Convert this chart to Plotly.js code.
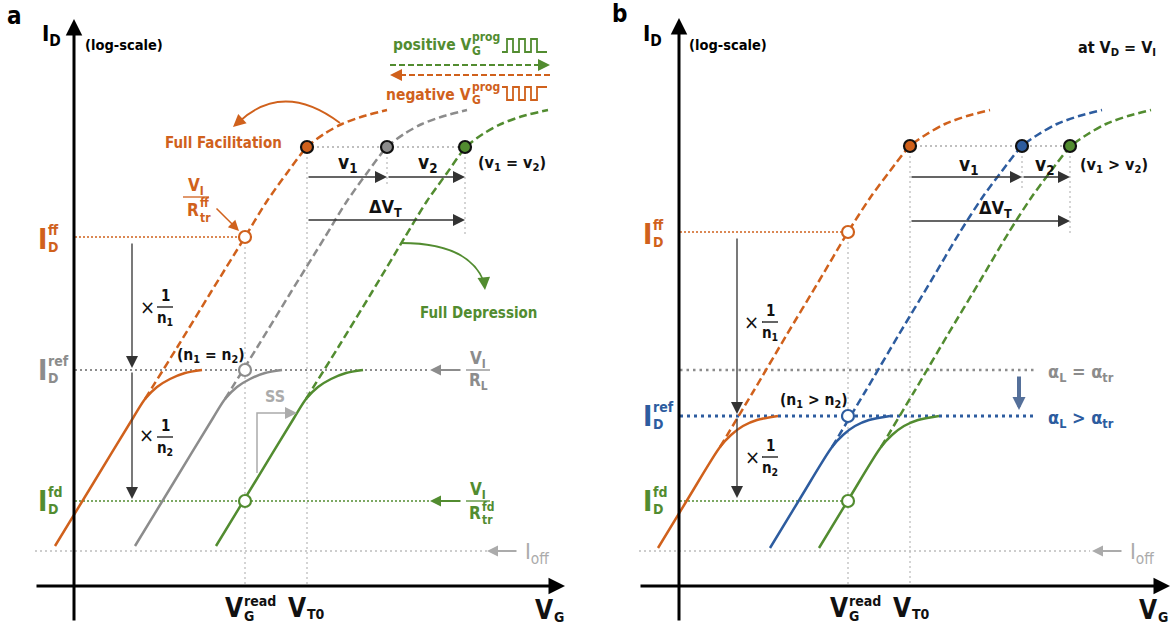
<!DOCTYPE html>
<html><head><meta charset="utf-8">
<script src="https://cdn.plot.ly/plotly-3.0.1.min.js"></script>
<style>html,body{margin:0;padding:0;background:#fff}#chart{width:1174px;height:630px}</style>
</head><body><div id="chart"></div>
<script>
// ---------- data (schematic units: VG offset from the axis origin, log ID above the VG axis) ----------
// panel a
const aOrangeSolidX = [-19, 20, 59, 71, 83, 96, 111, 128];
const aOrangeSolidY = [40, 104, 168, 187, 199, 207, 213, 216];
const aOrangeDashX = [71, 104, 137, 171, 193, 213, 233, 250, 268, 290, 313];
const aOrangeDashY = [187, 240, 294, 349, 385, 413, 439, 452, 462, 470, 476];
const aGraySolidX = [61, 100, 139, 151, 163, 176, 191, 208];
const aGraySolidY = [40, 104, 168, 187, 199, 207, 213, 216];
const aGrayDashX = [151, 184, 217, 251, 273, 293, 313, 330, 348, 370, 393];
const aGrayDashY = [187, 240, 294, 349, 385, 413, 439, 452, 462, 470, 476];
const aGreenSolidX = [142, 181, 220, 232, 244, 257, 272, 289];
const aGreenSolidY = [40, 104, 168, 187, 199, 207, 213, 216];
const aGreenDashX = [232, 265, 298, 331, 353, 373, 392, 409, 427, 449, 474];
const aGreenDashY = [187, 240, 294, 349, 385, 413, 439, 452, 462, 470, 476];
const aStateX = [233, 313, 391];          // orange / gray / green VT states
const aStateY = [439, 439, 439];
const aReadX = [171, 171, 171];           // read points at VG_read
const aReadY = [349, 216, 85];            // ID_ff, ID_ref, ID_fd
const aLevelOff = 35;
// panel b
const bOrangeSolidX = [-21, 10, 41, 52, 64, 78, 99];
const bOrangeSolidY = [38, 89, 139, 151, 160, 166, 170];
const bOrangeDashX = [41, 74, 107, 140, 169, 191, 211, 231, 248, 266, 288, 311];
const bOrangeDashY = [139, 194, 250, 305, 354, 388, 415, 440, 452, 462, 470, 476];
const bBlueSolidX = [91, 122, 153, 164, 176, 190, 211];
const bBlueSolidY = [38, 89, 139, 151, 160, 166, 170];
const bBlueDashX = [153, 186, 219, 252, 281, 303, 323, 343, 360, 378, 400, 423];
const bBlueDashY = [139, 194, 250, 305, 354, 388, 415, 440, 452, 462, 470, 476];
const bGreenSolidX = [140, 171, 202, 213, 225, 239, 260];
const bGreenSolidY = [38, 89, 139, 151, 160, 166, 170];
const bGreenDashX = [202, 235, 268, 301, 330, 352, 372, 392, 409, 427, 449, 472];
const bGreenDashY = [139, 194, 250, 305, 354, 388, 415, 440, 452, 462, 470, 476];
const bStateX = [231, 343, 391];
const bStateY = [440, 440, 440];
const bReadX = [169, 169, 169];
const bReadY = [354, 170, 85];
const bLevelAlpha = 216;
const bLevelOff = 35;
// programming pulse edges (top-right legend of panel a)
const pulseEdges = [428, 433, 439, 445, 451, 457, 463, 473];

// ---------- styling ----------
const ORANGE = '#d0611c', GREEN = '#528c30', BLUE = '#2d5c9f', GRAY = '#8c8c8c',
      LGRAY = '#ababab', VGRAY = '#bdbdbd', DARK = '#333333';
const F = "'Liberation Sans Narrow','DejaVu Sans Condensed','Arial Narrow','Liberation Sans',Arial,sans-serif";
const A = {x: 'x', y: 'y'}, B = {x: 'x2', y: 'y2'};

const traces = [], shapes = [], ann = [];

function curve(p, xs, ys, color, dashed) {
  traces.push({type: 'scatter', mode: 'lines', x: xs, y: ys, xaxis: p.x, yaxis: p.y, hoverinfo: 'skip',
    line: {color: color, width: 2.5, shape: 'spline', smoothing: 0.8, dash: dashed ? '8px,4px' : 'solid'}});
}
function dots(p, xs, ys, fills, lines) {
  traces.push({type: 'scatter', mode: 'markers', x: xs, y: ys, xaxis: p.x, yaxis: p.y, hoverinfo: 'skip',
    marker: {size: 12, color: fills, line: {color: lines, width: 2.2}}});
}
function txt(p, x, y, text, size, color, xanchor, bold, yanchor) {
  ann.push({xref: p.x, yref: p.y, x: x, y: y, text: (bold === false) ? text : '<b>' + text + '</b>',
    showarrow: false, xanchor: xanchor || 'center', yanchor: yanchor || 'middle',
    font: {family: F, size: size, color: color}, borderpad: 0});
}
function stacked(p, x, y, main, sup, sub, color, size, ssize, up, down, subDx) {
  txt(p, x, y, main, size, color, 'right');
  if (sup) txt(p, x - 1, y + up, sup, ssize, color, 'left');
  if (sub) txt(p, x - 1 + (subDx || 0), y - down, sub, ssize, color, 'left');
}
function arrow(p, x0, y0, x1, y1, color, width, size) {
  ann.push({xref: p.x, yref: p.y, axref: p.x, ayref: p.y, x: x1, y: y1, ax: x0, ay: y0, text: '',
    showarrow: true, arrowhead: 2, arrowsize: size, arrowwidth: width, arrowcolor: color, standoff: 0, startstandoff: 0});
}
function line(p, x0, y0, x1, y1, color, width, dash, layer) {
  shapes.push({type: 'line', xref: p.x, yref: p.y, x0: x0, y0: y0, x1: x1, y1: y1, layer: layer || 'below',
    line: {color: color, width: width, dash: dash || 'solid'}});
}
function path(p, d, color, width, dash) {
  shapes.push({type: 'path', xref: p.x, yref: p.y, path: d, layer: 'above', fillcolor: 'rgba(0,0,0,0)',
    line: {color: color, width: width, dash: dash || 'solid'}});
}
function frac(p, xc, yl, top, bottom, color, size, half) {
  txt(p, xc, yl + 11, top, size, color);
  line(p, xc - half, yl, xc + half, yl, color, 1.3, 'solid', 'above');
  if (bottom) txt(p, xc, yl - 11, bottom, size, color);
}
function pulse(p, edges, hi, lo, startLow, color) {
  let d = '', lvl = startLow ? lo : hi;
  d += 'M' + edges[0] + ',' + lvl;
  for (let i = 1; i < edges.length; i++) {
    d += ' L' + edges[i] + ',' + lvl;
    if (i < edges.length - 1) { lvl = (lvl === lo) ? hi : lo; d += ' L' + edges[i] + ',' + lvl; }
  }
  path(p, d, color, 1.8);
}

// ---------- panel a ----------
curve(A, aOrangeSolidX, aOrangeSolidY, ORANGE, false);
curve(A, aOrangeDashX, aOrangeDashY, ORANGE, true);
curve(A, aGraySolidX, aGraySolidY, GRAY, false);
curve(A, aGrayDashX, aGrayDashY, GRAY, true);
curve(A, aGreenSolidX, aGreenSolidY, GREEN, false);
curve(A, aGreenDashX, aGreenDashY, GREEN, true);
dots(A, aStateX, aStateY, [ORANGE, GRAY, GREEN], '#111');
dots(A, aReadX, aReadY, 'white', [ORANGE, GRAY, GREEN]);

line(A, 1, aReadY[0], aReadX[0], aReadY[0], ORANGE, 1.5, '2px,2px');
line(A, 1, aReadY[1], 356, aReadY[1], GRAY, 2, '2px,3px');
line(A, 1, aReadY[2], 356, aReadY[2], GREEN, 1.6, '2px,2px');
line(A, -39, aLevelOff, 413, aLevelOff, VGRAY, 1.5, '2px,3px');
line(A, aReadX[0], aReadY[0], aReadX[0], 0, VGRAY, 1.3, '2px,3px');
line(A, aStateX[0], aStateY[0], aStateX[0], 0, VGRAY, 1.3, '2px,3px');
line(A, aStateX[0], aStateY[0], aStateX[2], aStateY[2], LGRAY, 1.5, '2px,3px');
line(A, aStateX[1], aStateY[1], aStateX[1], 399, VGRAY, 1.3, '2px,3px');
line(A, aStateX[2], aStateY[2], aStateX[2], 352, VGRAY, 1.3, '2px,3px');

arrow(A, 0, -36, 0, 567, '#000', 3, 1.1);
arrow(A, -39, 0, 491, 0, '#000', 3, 1.1);
arrow(A, aStateX[0], 409, aStateX[1], 409, DARK, 1.3, 1.85);
arrow(A, aStateX[1], 409, aStateX[2], 409, DARK, 1.3, 1.85);
arrow(A, aStateX[0], 366, aStateX[2], 366, DARK, 1.3, 1.85);
arrow(A, 58, 344, 58, 218, DARK, 1.3, 1.85);
arrow(A, 58, 215, 58, 87, DARK, 1.3, 1.85);
arrow(A, 388, aReadY[1], 356, aReadY[1], GRAY, 2, 1.1);
arrow(A, 388, aReadY[2], 356, aReadY[2], GREEN, 2, 1.1);
arrow(A, 444, aLevelOff, 413, aLevelOff, LGRAY, 2, 1.1);
arrow(A, 141, 379, 165, 355, ORANGE, 1.5, 1.4);

txt(A, -60, 570, 'a', 24, '#000');
txt(A, -23, 551, 'I<sub>D</sub>', 22, '#000');
txt(A, 50, 541, '(log-scale)', 14.5, '#000');
stacked(A, -26, aReadY[0] - 2, 'I', 'ff', 'D', ORANGE, 28, 14, 9, 8);
stacked(A, -26, aReadY[1], 'I', 'ref', 'D', GRAY, 28, 14, 9, 8);
stacked(A, -26, aReadY[2], 'I', 'fd', 'D', GREEN, 28, 14, 9, 8);
frac(A, 404, aReadY[1], 'V<sub>I</sub>', 'R<sub>L</sub>', GRAY, 17, 12);
frac(A, 404, aReadY[2], 'V<sub>I</sub>', null, GREEN, 17, 12);
stacked(A, 408, 73, 'R', 'fd', 'tr', GREEN, 17, 12, 6, 7);
txt(A, 463, 33, 'I<sub>off</sub>', 22, LGRAY, 'center', false);
frac(A, 122, 389, 'V<sub>I</sub>', null, ORANGE, 17, 13);
stacked(A, 126, 376, 'R', 'ff', 'tr', ORANGE, 17, 12, 7, 8);
txt(A, 149, 443, 'Full Facilitation', 15, ORANGE);
txt(A, 404, 273, 'Full Depression', 15, GREEN);
txt(A, 273, 423, 'v<sub>1</sub>', 19, '#111');
txt(A, 353, 423, 'v<sub>2</sub>', 19, '#111');
txt(A, 311, 378, '\u0394V<sub>T</sub>', 18, '#111');
txt(A, 438, 423, '(v<sub>1</sub> = v<sub>2</sub>)', 16, '#111');
txt(A, 137, 230, '(n<sub>1</sub> = n<sub>2</sub>)', 15.5, '#111');
txt(A, 73, 279, '\u00d7', 20, '#111', 'center', false);
frac(A, 91, 279, '1', 'n<sub>1</sub>', '#111', 15, 8);
txt(A, 72, 151, '\u00d7', 20, '#111', 'center', false);
frac(A, 91, 149, '1', 'n<sub>2</sub>', '#111', 15, 8);
txt(A, 201, 190, 'SS', 16, LGRAY);
path(A, 'M183,113 L183,173 L214,173', LGRAY, 1.5);
arrow(A, 210, 173, 223, 173, LGRAY, 1.5, 1.6);
stacked(A, 170, -22, 'V', 'read', null, '#111', 26, 14, 7, 0);
txt(A, 169, -30, 'G', 14, '#111', 'left');
stacked(A, 233, -22, 'V', null, 'T0', '#111', 26, 14, 0, 6);
stacked(A, 480, -24, 'V', null, 'G', '#111', 26, 14, 0, 7);
// full facilitation / depression arcs
path(A, 'M266,463 Q210,505 166,465', ORANGE, 1.8);
arrow(A, 168, 467, 159, 459, ORANGE, 1.8, 1.4);
path(A, 'M327,343 Q395,343 410,304', GREEN, 1.8);
arrow(A, 410, 306, 411, 296, GREEN, 1.8, 1.4);
// programming legend
stacked(A, 398, 541, 'positive V', 'prog', 'G', GREEN, 15.5, 12, 8, 6);
stacked(A, 398, 491, 'negative V', 'prog', 'G', ORANGE, 15.5, 12, 8, 5);
pulse(A, pulseEdges, 547, 534, true, GREEN);
pulse(A, pulseEdges, 499, 486, false, ORANGE);
line(A, 316, 521, 466, 521, GREEN, 2, '6px,3px', 'above');
arrow(A, 462, 521, 476, 521, GREEN, 2, 1.2);
line(A, 476, 511, 326, 511, ORANGE, 2, '6px,3px', 'above');
arrow(A, 330, 511, 316, 511, ORANGE, 2, 1.2);

// ---------- panel b ----------
curve(B, bOrangeSolidX, bOrangeSolidY, ORANGE, false);
curve(B, bOrangeDashX, bOrangeDashY, ORANGE, true);
curve(B, bBlueSolidX, bBlueSolidY, BLUE, false);
curve(B, bBlueDashX, bBlueDashY, BLUE, true);
curve(B, bGreenSolidX, bGreenSolidY, GREEN, false);
curve(B, bGreenDashX, bGreenDashY, GREEN, true);
dots(B, bStateX, bStateY, [ORANGE, BLUE, GREEN], '#111');
dots(B, bReadX, bReadY, 'white', [ORANGE, BLUE, GREEN]);

line(B, 1, bReadY[0], bReadX[0], bReadY[0], ORANGE, 1.5, '2px,2px');
line(B, 1, bLevelAlpha, 356, bLevelAlpha, GRAY, 2.5, '2.5px,4px');
line(B, 1, bReadY[1], 356, bReadY[1], BLUE, 3, '3px,4px');
line(B, 1, bReadY[2], bReadX[2], bReadY[2], GREEN, 1.6, '2px,2px');
line(B, -40, bLevelOff, 411, bLevelOff, VGRAY, 1.5, '2px,3px');
line(B, bReadX[0], bReadY[0], bReadX[0], 0, VGRAY, 1.3, '2px,3px');
line(B, bStateX[0], bStateY[0], bStateX[0], 0, VGRAY, 1.3, '2px,3px');
line(B, bStateX[0], bStateY[0], bStateX[2], bStateY[2], LGRAY, 1.5, '2px,3px');
line(B, bStateX[1], bStateY[1], bStateX[1], 398, VGRAY, 1.3, '2px,3px');
line(B, bStateX[2], bStateY[2], bStateX[2], 353, VGRAY, 1.3, '2px,3px');

arrow(B, 0, -36, 0, 568, '#000', 3, 1.1);
arrow(B, -40, 0, 491, 0, '#000', 3, 1.1);
arrow(B, bStateX[0], 409, bStateX[1], 409, DARK, 1.3, 1.85);
arrow(B, bStateX[1], 409, bStateX[2], 409, DARK, 1.3, 1.85);
arrow(B, bStateX[0], 365, bStateX[2], 365, DARK, 1.3, 1.85);
arrow(B, 58, 349, 58, 172, DARK, 1.3, 1.85);
arrow(B, 58, 169, 58, 88, DARK, 1.3, 1.85);
arrow(B, 444, bLevelOff, 413, bLevelOff, LGRAY, 2, 1.1);
arrow(B, 340, 211, 340, 176, '#55709a', 4, 0.65);

txt(B, -60, 572, 'b', 24, '#000');
txt(B, -27, 551, 'I<sub>D</sub>', 22, '#000');
txt(B, 49, 541, '(log-scale)', 14.5, '#000');
txt(B, 438, 538, 'at V<sub>D</sub> = V<sub>I</sub>', 16, '#111');
stacked(B, -26, bReadY[0] - 2, 'I', 'ff', 'D', ORANGE, 28, 14, 9, 8);
stacked(B, -26, bReadY[1], 'I', 'ref', 'D', BLUE, 28, 14, 9, 8);
stacked(B, -26, bReadY[2], 'I', 'fd', 'D', GREEN, 28, 14, 9, 8);
txt(B, 368, 213, '\u03b1<sub>L</sub> = \u03b1<sub>tr</sub>', 18, GRAY, 'left');
txt(B, 368, 167, '\u03b1<sub>L</sub> > \u03b1<sub>tr</sub>', 18, BLUE, 'left');
txt(B, 463, 33, 'I<sub>off</sub>', 22, LGRAY, 'center', false);
txt(B, 289, 421, 'v<sub>1</sub>', 19, '#111');
txt(B, 365, 421, 'v<sub>2</sub>', 19, '#111');
txt(B, 316, 377, '\u0394V<sub>T</sub>', 18, '#111');
txt(B, 435, 421, '(v<sub>1</sub> > v<sub>2</sub>)', 16, '#111');
txt(B, 135, 185, '(n<sub>1</sub> > n<sub>2</sub>)', 15.5, '#111');
txt(B, 72, 264, '\u00d7', 20, '#111', 'center', false);
frac(B, 91, 264, '1', 'n<sub>1</sub>', '#111', 15, 8);
txt(B, 73, 129, '\u00d7', 20, '#111', 'center', false);
frac(B, 91, 129, '1', 'n<sub>2</sub>', '#111', 15, 8);
stacked(B, 170, -22, 'V', 'read', null, '#111', 26, 14, 7, 0);
txt(B, 169, -30, 'G', 14, '#111', 'left');
stacked(B, 233, -22, 'V', null, 'T0', '#111', 26, 14, 0, 6);
stacked(B, 479, -24, 'V', null, 'G', '#111', 26, 14, 0, 7);

const layout = {
  width: 1174, height: 630, margin: {l: 0, r: 0, t: 0, b: 0},
  paper_bgcolor: '#ffffff', plot_bgcolor: 'rgba(0,0,0,0)', showlegend: false,
  xaxis: {domain: [0, 0.5], range: [-74, 513], visible: false, fixedrange: true},
  yaxis: {domain: [0, 1], range: [-44, 586], visible: false, fixedrange: true},
  xaxis2: {domain: [0.5, 1], range: [-92, 495], visible: false, fixedrange: true, anchor: 'y2'},
  yaxis2: {domain: [0, 1], range: [-44, 586], visible: false, fixedrange: true, anchor: 'x2'},
  shapes: shapes, annotations: ann
};
Plotly.newPlot('chart', traces, layout, {displayModeBar: false, staticPlot: true});
</script>
</body></html>
